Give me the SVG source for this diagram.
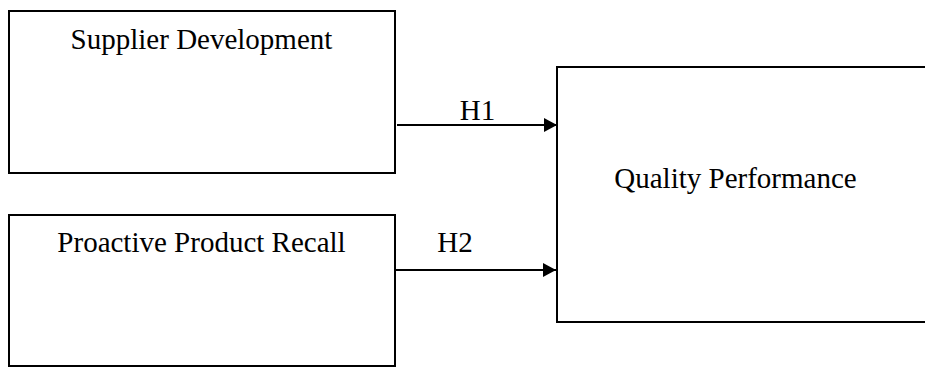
<svg xmlns="http://www.w3.org/2000/svg" width="925" height="367" viewBox="0 0 925 367">
<style>
.box{fill:#fff;stroke:#000;stroke-width:2}
.lbl{font-family:"Liberation Serif","Times New Roman",serif;font-size:29px;fill:#000}
.conn{stroke:#000;stroke-width:2;fill:none}
</style>
<defs>
<marker id="arr" markerWidth="14" markerHeight="14" refX="13" refY="7" orient="auto" markerUnits="userSpaceOnUse">
<path d="M0,0 L13,7 L0,14 Z" fill="#000"/>
</marker>
</defs>
<rect width="925" height="367" fill="#fff"/>
<g id="supplier-development">
<rect class="box" x="9" y="11" width="386" height="162"/>
<text class="lbl" x="201.5" y="49" text-anchor="middle">Supplier Development</text>
</g>
<g id="proactive-product-recall">
<rect class="box" x="9" y="215" width="386" height="151"/>
<text class="lbl" x="201.5" y="252" text-anchor="middle">Proactive Product Recall</text>
</g>
<g id="quality-performance">
<rect class="box" x="557" y="67" width="380" height="255"/>
<text class="lbl" x="735.5" y="188" text-anchor="middle">Quality Performance</text>
</g>
<g id="connectors">
<line class="conn" x1="397" y1="125" x2="557" y2="125" marker-end="url(#arr)"/>
<text class="lbl" x="477.5" y="120" text-anchor="middle">H1</text>
<line class="conn" x1="395" y1="270" x2="556" y2="270" marker-end="url(#arr)"/>
<text class="lbl" x="455" y="252" text-anchor="middle">H2</text>
</g>
</svg>
